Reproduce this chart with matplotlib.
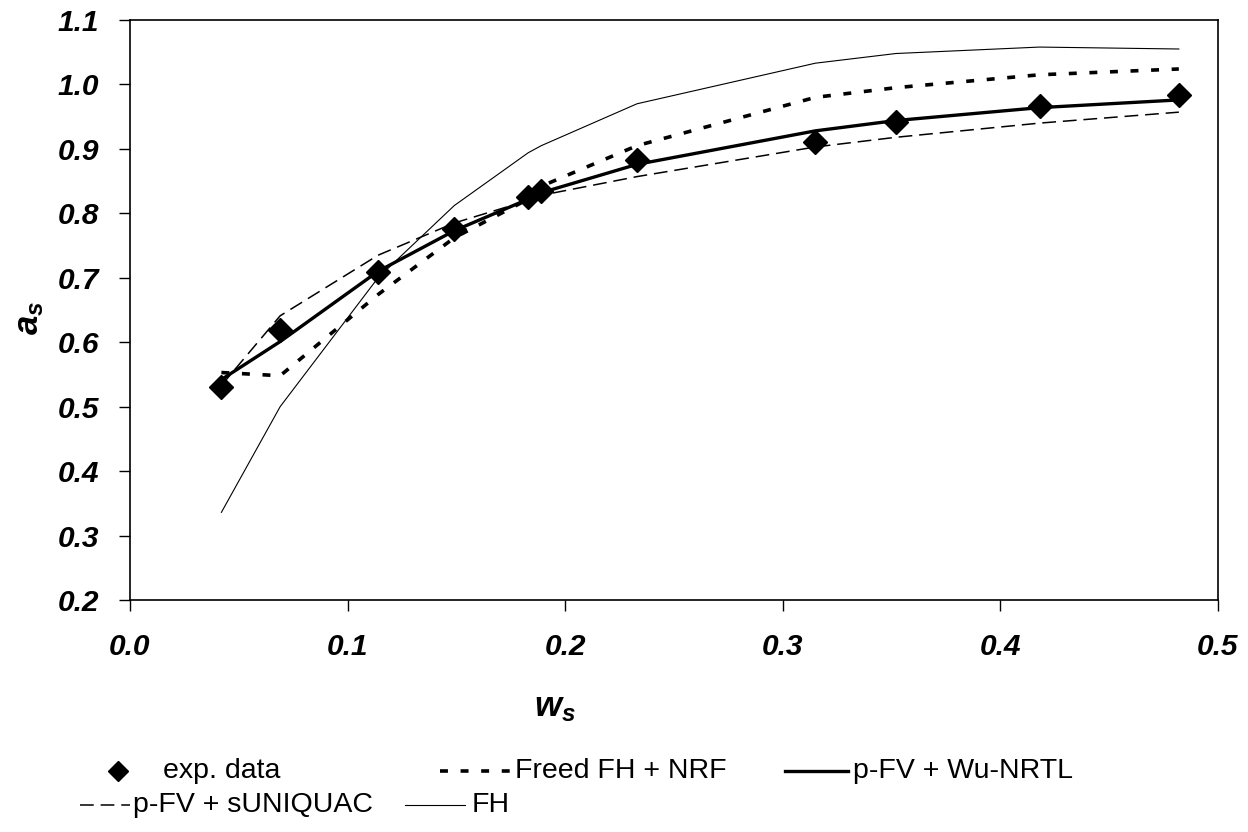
import matplotlib
matplotlib.use("Agg")
import matplotlib.pyplot as plt
from matplotlib.lines import Line2D

plt.rcParams['font.family'] = ['Liberation Sans', 'DejaVu Sans']
plt.rcParams['mathtext.fontset'] = 'custom'
plt.rcParams['mathtext.it'] = 'Liberation Sans:italic:bold'
plt.rcParams['mathtext.rm'] = 'Liberation Sans:bold'

# ---- data ----
w_s = [0.042, 0.069, 0.114, 0.149, 0.183, 0.189, 0.233, 0.315, 0.352, 0.418, 0.482]
a_exp = [0.530, 0.619, 0.709, 0.775, 0.825, 0.834, 0.883, 0.911, 0.942, 0.967, 0.983]
a_freed = [0.553, 0.548, 0.674, 0.762, 0.822, 0.842, 0.905, 0.980, 0.995, 1.015, 1.024]
a_wunrtl = [0.542, 0.601, 0.710, 0.773, 0.822, 0.832, 0.876, 0.928, 0.944, 0.964, 0.976]
a_suniquac = [0.533, 0.641, 0.735, 0.785, 0.820, 0.828, 0.857, 0.903, 0.918, 0.940, 0.957]
a_fh = [0.336, 0.500, 0.700, 0.812, 0.894, 0.905, 0.970, 1.033, 1.048, 1.058, 1.055]

x_ticks = [0.0, 0.1, 0.2, 0.3, 0.4, 0.5]
y_ticks = [0.2, 0.3, 0.4, 0.5, 0.6, 0.7, 0.8, 0.9, 1.0, 1.1]

labels = ["exp. data", "Freed FH + NRF", "p-FV + Wu-NRTL", "p-FV + sUNIQUAC", "FH"]

fig = plt.figure(figsize=(12.48, 8.32), dpi=100)
ax = fig.add_axes([130/1248, 1-600/832, 1088/1248, 580/832])

st_fh = dict(color='black', lw=0.8)
st_suniq = dict(color='black', lw=1.1, dashes=(9.0, 4.5))
st_freed = dict(color='black', lw=2.6, dashes=(2.2, 3.5))
st_wu = dict(color='black', lw=2.4)
st_exp = dict(color='black', ls='none', marker='D', markersize=12)

ax.plot(w_s, a_fh, **st_fh)
ax.plot(w_s, a_suniquac, **st_suniq)
ax.plot(w_s, a_freed, **st_freed)
ax.plot(w_s, a_wunrtl, **st_wu)
ax.plot(w_s, a_exp, **st_exp)

ax.set_xlim(0.0, 0.5)
ax.set_ylim(0.2, 1.1)
ax.set_xticks(x_ticks)
ax.set_yticks(y_ticks)
ax.set_xticklabels([f"{v:.1f}" for v in x_ticks], fontsize=21.5, fontweight='bold', style='italic')
ax.set_yticklabels([f"{v:.1f}" for v in y_ticks], fontsize=21.5, fontweight='bold', style='italic')
ax.tick_params(axis='x', direction='out', length=8, width=1, pad=16)
ax.tick_params(axis='y', direction='out', length=8, width=1, pad=14)
for sp in ax.spines.values():
    sp.set_linewidth(1.2)

fig.text(30/1248, 1-318/832, r'$a_s$', fontsize=25, rotation=90, ha='center', va='center')
fig.text(555/1248, 1-708/832, r'$w_s$', fontsize=25, ha='center', va='center')

# ---- legend (manual, Excel style) ----
def px(x, y):
    return x/1248, 1-y/832

def entry(x0, x1, y, style, text, tx, marker=False):
    if marker:
        xm, ym = px((x0 + x1)/2, y)
        fig.add_artist(Line2D([xm], [ym], transform=fig.transFigure, color='black',
                              marker='D', markersize=10, ls='none'))
    else:
        a, b = px(x0, y)
        c, _ = px(x1, y)
        fig.add_artist(Line2D([a, c], [b, b], transform=fig.transFigure, **style))
    fx, fy = px(tx, y)
    fig.text(fx, fy, text, fontsize=20.5, ha='left', va='center')

entry(108, 128, 771, None, labels[0], 163, marker=True)
entry(440, 510, 771, st_freed, labels[1], 515)
entry(785, 848, 771, st_wu, labels[2], 853)
entry(80, 130, 805, st_suniq, labels[3], 133)
entry(405, 465, 805, st_fh, labels[4], 472)

fig.savefig("out.png", dpi=100)
